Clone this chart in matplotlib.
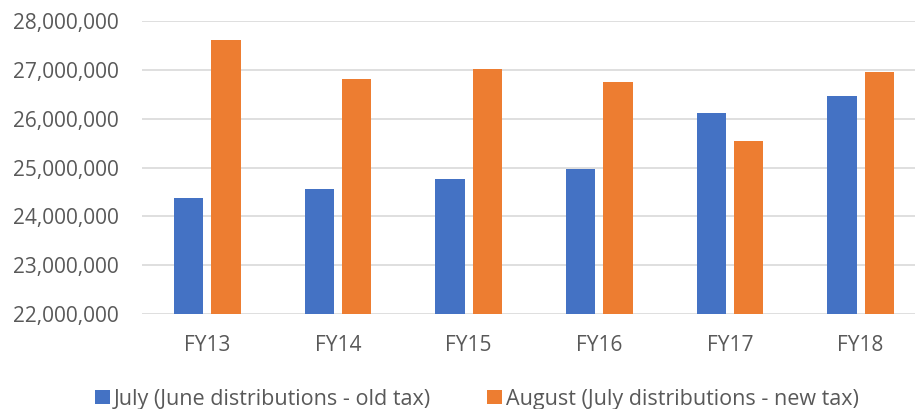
import matplotlib
matplotlib.use("Agg")
import matplotlib.pyplot as plt
import numpy as np
from matplotlib.ticker import FuncFormatter

categories = ["FY13", "FY14", "FY15", "FY16", "FY17", "FY18"]
july_old_tax = [24370000, 24570000, 24760000, 24960000, 26110000, 26460000]
august_new_tax = [27610000, 26810000, 27020000, 26750000, 25550000, 26950000]
series_names = ["July (June distributions - old tax)", "August (July distributions - new tax)"]
yticks = [22000000, 23000000, 24000000, 25000000, 26000000, 27000000, 28000000]

plt.rcParams['font.family'] = ['Open Sans', 'DejaVu Sans']

fig = plt.figure(figsize=(9.15, 4.09), dpi=100)
ax = fig.add_axes([142/915, 1 - 314.3/409, (926 - 142)/915, (314.3 - 20.7)/409])

x = np.arange(len(categories))
w = 0.224
off = 0.143
ax.bar(x - off, july_old_tax, width=w, color="#4472C4", label=series_names[0], zorder=3)
ax.bar(x + off, august_new_tax, width=w, color="#ED7D31", label=series_names[1], zorder=3)

ax.set_ylim(22000000, 28000000)
ax.set_yticks(yticks)
ax.yaxis.set_major_formatter(FuncFormatter(lambda v, p: f"{int(v):,}"))
ax.set_xlim(-0.5, 5.5)
ax.set_xticks(x)
ax.set_xticklabels(categories)

ax.grid(axis="y", color="#d9d9d9", linewidth=1.2, zorder=0)
for s in ax.spines.values():
    s.set_visible(False)
ax.tick_params(axis="both", length=0, colors="#595959", labelsize=15)
ax.tick_params(axis="x", pad=15)
ax.tick_params(axis="y", pad=17)

leg = fig.legend(loc="center", bbox_to_anchor=(477/915, 1 - 399/409), ncol=2, frameon=False,
                 fontsize=15.5, handlelength=0.68, handleheight=0.68, handletextpad=0.2,
                 columnspacing=2.6, labelcolor="#595959")

fig.savefig("out.png", dpi=100)
